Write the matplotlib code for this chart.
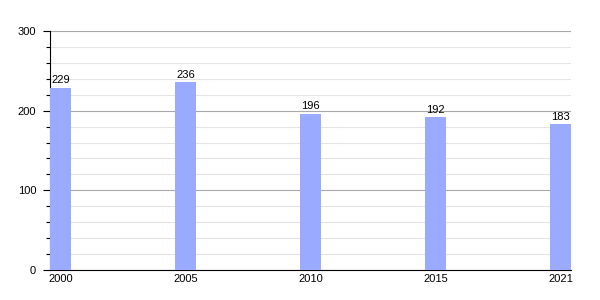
import matplotlib.pyplot as plt
from matplotlib.ticker import MultipleLocator
import numpy as np

plt.rcParams['font.family'] = ['Liberation Sans', 'DejaVu Sans']

years  = ['2000', '2005', '2010', '2015', '2021']
values = [229, 236, 196, 192, 183]

bar_col = '#99aaff'
w = 0.168

fig = plt.figure(figsize=(6, 3), dpi=100)
ax = fig.add_axes([50/600, 30/300, 521/600, 239/300])

x = np.arange(len(years))
ax.bar(x, values, width=w, align='edge', color=bar_col, zorder=3)
for xi, v in zip(x, values):
    ax.text(xi + w/2, v + 3, str(v), ha='center', va='bottom', fontsize=8, zorder=4)

ax.set_xlim(0, len(years) - 1 + w)
ax.set_ylim(0, 300)
ax.set_xticks(x + w/2)
ax.set_xticklabels(years)
ax.yaxis.set_major_locator(MultipleLocator(100))
ax.yaxis.set_minor_locator(MultipleLocator(20))

ax.grid(axis='y', which='major', color='#a8a8a8', lw=0.8, zorder=1)
ax.grid(axis='y', which='minor', color='#e4e4e4', lw=0.8, zorder=0)

for s in ['top', 'right']:
    ax.spines[s].set_visible(False)
ax.spines['left'].set_linewidth(0.8)
ax.spines['bottom'].set_linewidth(0.8)
ax.tick_params(axis='x', length=0, pad=3, labelsize=8)
ax.tick_params(axis='y', which='major', length=5, width=0.8, pad=5, labelsize=8)
ax.tick_params(axis='y', which='minor', length=3, width=0.8)

fig.savefig('out.png', dpi=100)
